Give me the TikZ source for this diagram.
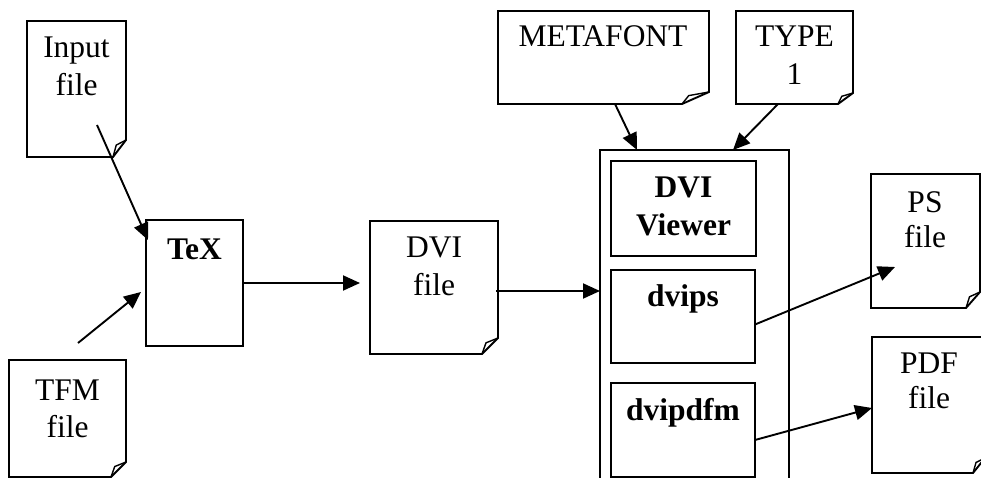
\documentclass[tikz,border=0pt]{standalone}
\usepackage{fontspec}
\setmainfont{Liberation Serif}
\usetikzlibrary{arrows.meta,fit}
\newcommand\docshape[7]{%
  \node[area, fit={(#2,#3) (#4,#5)}] (#1) {};
  \draw[line] (#1.north west) -- (#1.north east) -- ([yshift=#7pt]#1.south east)
     -- ([xshift=-#6pt]#1.south east) -- (#1.south west) -- cycle;
  \draw[line, line width=1.4pt] ([yshift=#7pt]#1.south east)
     -- ([xshift={-0.75*#6pt}, yshift={0.7*#7pt}]#1.south east)
     -- ([xshift=-#6pt]#1.south east);
}
\begin{document}
\begin{tikzpicture}[x=1pt,y=-1pt,
  line/.style={line width=1.9pt, line join=miter},
  arr/.style={line width=1.9pt, -{Triangle[length=17pt,width=15pt]}},
  frame/.style={draw, line width=1.9pt, inner sep=0pt, outer sep=0pt},
  area/.style={inner sep=0pt, outer sep=0pt},
  txt/.style={anchor=base, inner sep=0pt, font=\fontsize{31.5}{38}\selectfont},
  btxt/.style={anchor=base, inner sep=0pt, font=\fontsize{31.5}{38}\selectfont\bfseries}]
\useasboundingbox (0,0) rectangle (981,478);
\clip (0,0) rectangle (981,478);

% documents
\docshape{input}{27}{21}{126}{157}{13}{17}
\docshape{tfm}{9}{360}{126}{477}{15}{15}
\docshape{dvi}{370}{221}{498}{354}{16}{16}
\docshape{mf}{498}{11}{709}{104}{27}{12}
\docshape{type}{736}{11}{853}{104}{15}{11}
\docshape{ps}{871}{174}{980}{308}{14}{16}
\docshape{pdf}{872}{337}{985}{473}{12}{15}

% boxes
\node[frame, fit={(146,220) (243,346)}] (tex) {};
\node[frame, fit={(600,150) (789,495)}] (container) {};
\node[frame, fit={(611,161) (756,256)}] (viewer) {};
\node[frame, fit={(611,270) (755,363)}] (dvips) {};
\node[frame, fit={(611,383) (755,477)}] (dvipdfm) {};

% texts
\node[txt] (inputA) at (76.5,58) {Input};
\node[txt] (inputB) at (76.5,96) {file};
\node[txt] (tfmA) at (67.5,400) {TFM};
\node[txt] (tfmB) at (67.5,437) {file};
\node[btxt] (texA) at (194.5,259) {TeX};
\node[txt] (dviA) at (434,257) {DVI};
\node[txt] (dviB) at (434,295) {file};
\node[txt] (mfA) at (603,47) {METAFONT};
\node[txt] (typeA) at (794.5,47) {TYPE};
\node[txt] (typeB) at (794.5,85) {1};
\node[btxt] (viewerA) at (683.5,198) {DVI};
\node[btxt] (viewerB) at (683.5,236) {Viewer};
\node[btxt] (dvipsA) at (683,306) {dvips};
\node[btxt] (dvipdfmA) at (683,420) {dvipdfm};
\node[txt] (psA) at (925,212) {PS};
\node[txt] (psB) at (925,247) {file};
\node[txt] (pdfA) at (929,373) {PDF};
\node[txt] (pdfB) at (929,408) {file};

% connectors
\coordinate (inS) at (97,125);
\draw[arr] (inS) -- ([xshift=2pt,yshift=-20pt]tex.north west);
\coordinate (tfmS) at (78,343);
\draw[arr] (tfmS) -- ([xshift=-5pt,yshift=-72pt]tex.north west);
\draw[arr, shorten >=10pt] (tex.east) -- (tex.east -| dvi.west);
\coordinate (dviS) at (496,291);
\draw[arr] (dviS) -- (dviS -| container.west);
\draw[arr] ([xshift=117pt]mf.south west) -- ([xshift=37pt]container.north west);
\draw[arr] ([xshift=42pt]type.south west) -- ([xshift=133pt]container.north west);
\draw[arr] ([yshift=-8pt]dvips.east) -- ([xshift=24pt,yshift=-93pt]ps.north west);
\draw[arr] ([yshift=-10pt]dvipdfm.east) -- ([yshift=-71pt]pdf.north west);
\end{tikzpicture}
\end{document}
